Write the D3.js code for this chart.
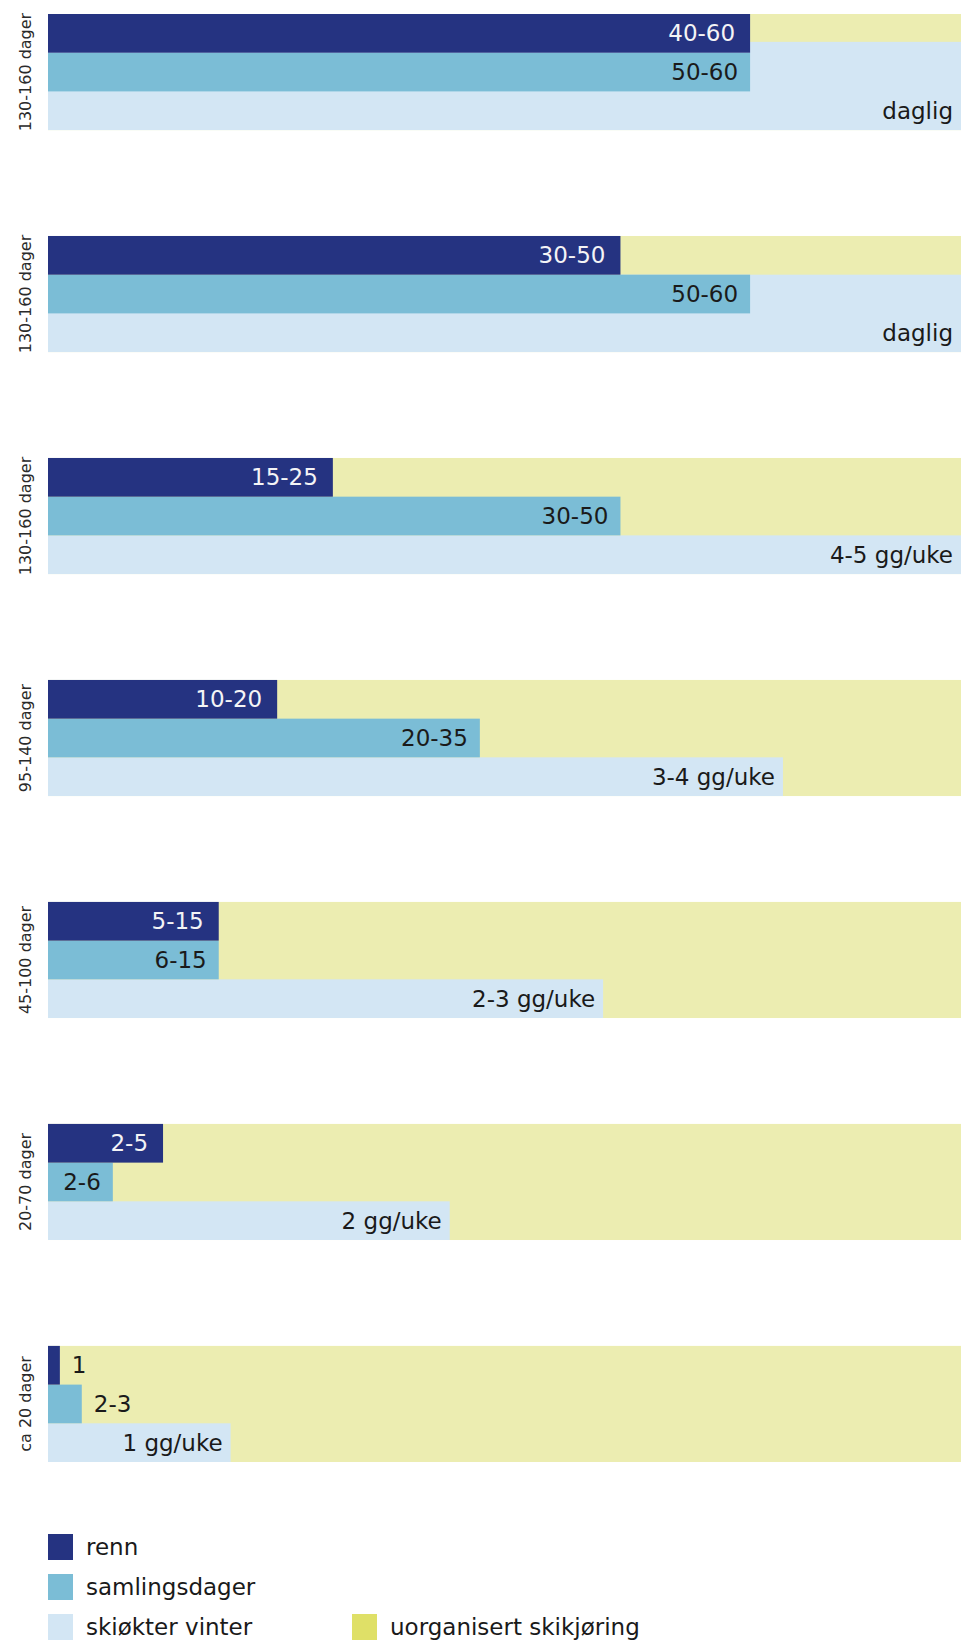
<!DOCTYPE html>
<html>
<head>
<meta charset="utf-8">
<script src="https://cdn.jsdelivr.net/npm/d3@7"></script>
<style>
  html, body { margin: 0; padding: 0; background: #ffffff; }
  svg { display: block; }
</style>
</head>
<body>
<svg id="chart" width="961" height="1641"></svg>
<script>
// ---- data ----
const groups = ["130-160 dager", "130-160 dager", "130-160 dager", "95-140 dager", "45-100 dager", "20-70 dager", "ca 20 dager"];
const seriesNames = ["renn", "samlingsdager", "skiøkter vinter", "uorganisert skikjøring"];
// bar lengths as share (%) of the full row width
const renn = [76.9, 62.7, 31.2, 25.1, 18.7, 12.6, 1.3];
const samling = [76.9, 76.9, 62.7, 47.3, 18.7, 7.1, 3.7];
const skiokter = [100, 100, 100, 80.5, 60.8, 44.0, 20.0];
const uorganisert = [100, 100, 100, 100, 100, 100, 100];
// how many rows the "skiøkter vinter" bar spans (counted from the bottom row)
const skiRowSpan = [2.28, 2, 1, 1, 1, 1, 1];
const rennLabels = ["40-60", "30-50", "15-25", "10-20", "5-15", "2-5", "1"];
const samlingLabels = ["50-60", "50-60", "30-50", "20-35", "6-15", "2-6", "2-3"];
const skioktLabels = ["daglig", "daglig", "4-5 gg/uke", "3-4 gg/uke", "2-3 gg/uke", "2 gg/uke", "1 gg/uke"];

// ---- styles ----
const colors = {
  renn: "#253381",
  samling: "#7bbdd6",
  ski: "#d3e6f4",
  uorgBar: "#ecedb1",
  uorgLegend: "#dfe067"
};
const FONT = "'DejaVu Sans', sans-serif";

const svg = d3.select("#chart");
const left = 48, right = 961;
const x = d3.scaleLinear().domain([0, 100]).range([left, right]);
const idx = d3.range(groups.length);
const yGroup = d3.scaleBand().domain(idx).range([14, 1462]).paddingInner(0.477).paddingOuter(0);
const rowKeys = [0, 1, 2];
const yRow = d3.scaleBand().domain(rowKeys).range([0, yGroup.bandwidth()]).padding(0);
const rowH = yRow.bandwidth();

const g = svg.append("g");
const grp = g.selectAll("g.grp").data(idx).join("g")
  .attr("class", "grp")
  .attr("transform", i => `translate(0,${yGroup(i)})`);

// background: uorganisert skikjøring
grp.append("rect")
  .attr("x", x(0)).attr("y", 0)
  .attr("width", i => x(uorganisert[i]) - x(0))
  .attr("height", yGroup.bandwidth())
  .attr("fill", colors.uorgBar);

// skiøkter vinter
grp.append("rect")
  .attr("x", x(0))
  .attr("y", i => yGroup.bandwidth() - skiRowSpan[i] * rowH)
  .attr("width", i => x(skiokter[i]) - x(0))
  .attr("height", i => skiRowSpan[i] * rowH)
  .attr("fill", colors.ski);

// samlingsdager
grp.append("rect")
  .attr("x", x(0)).attr("y", yRow(1))
  .attr("width", i => x(samling[i]) - x(0))
  .attr("height", rowH)
  .attr("fill", colors.samling);

// renn
grp.append("rect")
  .attr("x", x(0)).attr("y", yRow(0))
  .attr("width", i => x(renn[i]) - x(0))
  .attr("height", rowH)
  .attr("fill", colors.renn);

// labels
const labelSets = [
  { vals: renn, labels: rennLabels, row: 0, inColor: "#f4f4f6", pad: 15 },
  { vals: samling, labels: samlingLabels, row: 1, inColor: "#1a1a1a", pad: 12 },
  { vals: skiokter, labels: skioktLabels, row: 2, inColor: "#1a1a1a", pad: 8 }
];
labelSets.forEach(s => {
  grp.append("text")
    .attr("font-family", FONT)
    .attr("font-weight", 400)
    .attr("font-size", 23)
    .attr("y", yRow(s.row) + rowH / 2 + 8)
    .text(i => s.labels[i])
    .each(function (i) {
      const t = d3.select(this);
      const w = this.getComputedTextLength();
      const barW = x(s.vals[i]) - x(0);
      if (w + s.pad + 4 <= barW) {
        t.attr("x", x(s.vals[i]) - s.pad).attr("text-anchor", "end").attr("fill", s.inColor);
      } else {
        t.attr("x", x(s.vals[i]) + 12).attr("text-anchor", "start").attr("fill", "#1a1a1a");
      }
    });
});

// group labels (rotated)
grp.append("text")
  .attr("font-family", FONT)
  .attr("font-weight", 400)
  .attr("font-size", 16)
  .attr("fill", "#2a2a2a")
  .attr("text-anchor", "middle")
  .attr("transform", `translate(31,${yGroup.bandwidth() / 2}) rotate(-90)`)
  .text(i => groups[i]);

// legend
const legendItems = [
  { name: seriesNames[0], color: colors.renn, col: 0, row: 0 },
  { name: seriesNames[1], color: colors.samling, col: 0, row: 1 },
  { name: seriesNames[2], color: colors.ski, col: 0, row: 2 },
  { name: seriesNames[3], color: colors.uorgLegend, col: 1, row: 2 }
];
const legX = [48, 352];
const legY0 = 1534, legStep = 40, sq = 25;
const leg = svg.append("g").selectAll("g").data(legendItems).join("g")
  .attr("transform", d => `translate(${legX[d.col]},${legY0 + d.row * legStep})`);
leg.append("rect").attr("width", sq).attr("height", 26).attr("fill", d => d.color);
leg.append("text")
  .attr("x", sq + 13).attr("y", 21)
  .attr("font-family", FONT).attr("font-weight", 400).attr("font-size", 23).attr("fill", "#1a1a1a")
  .text(d => d.name);
</script>
</body>
</html>
